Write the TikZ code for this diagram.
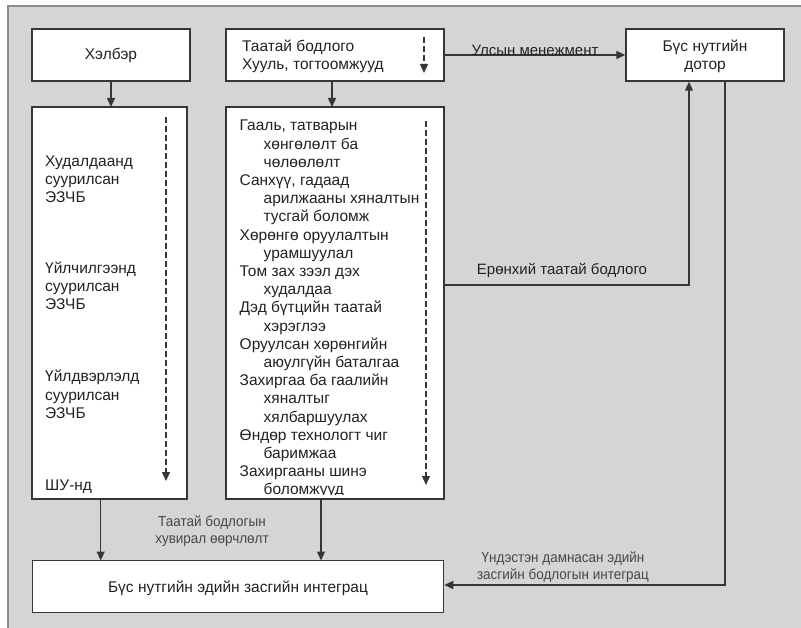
\documentclass[tikz,border=0pt]{standalone}
\usepackage{fontspec}
\setmainfont{Liberation Sans}
\usetikzlibrary{arrows.meta}
\definecolor{bg}{HTML}{D4D5D7}
\definecolor{frame}{HTML}{8C8C8C}
\definecolor{ln}{HTML}{363636}
\definecolor{txt}{HTML}{222222}
\definecolor{lbl}{HTML}{474747}
\newcommand{\ind}{\hspace*{24pt}}
\tikzset{
  box/.style={draw=ln, line width=1.5pt, fill=white, inner sep=0pt},
  conn/.style={draw=ln, line width=1.4pt, -{Triangle[length=9pt,width=8pt]}},
  dashar/.style={draw=ln, line width=1.2pt, dash pattern=on 6pt off 3pt, -{Triangle[length=9pt,width=8pt]}},
  maintxt/.style={text=txt, font=\fontsize{15.5}{18.2}\selectfont, inner sep=0pt},
  lbltxt/.style={text=lbl, font=\fontsize{14.5}{17}\selectfont\addfontfeatures{FakeStretch=0.93}, inner sep=0pt, align=center}
}
\begin{document}
\begin{tikzpicture}[x=1pt,y=-1pt]
\useasboundingbox (0,0) rectangle (801,628);
\clip (0,0) rectangle (801,628);
\draw[frame, line width=1.5pt, fill=bg] (8,6) rectangle (820,650);

% boxes
\node[box, minimum width=158pt, minimum height=52pt] (form) at (111,55) {};
\node[box, minimum width=155pt, minimum height=392pt] (leftbig) at (109.5,303) {};
\node[box, minimum width=218pt, minimum height=52pt] (policy) at (335,55) {};
\node[box, minimum width=218pt, minimum height=392pt] (midbig) at (335,303) {};
\node[box, minimum width=158pt, minimum height=52pt] (region) at (705,55) {};
\node[box, minimum width=411pt, minimum height=52pt] (integ) at (238,586.5) {};

% box texts
\node[maintxt] (formtxt) at (form.center) {Хэлбэр};
\node[maintxt, align=left, anchor=west] (policytxt) at (242,56) {Таатай бодлого\\Хууль, тогтоомжууд};
\node[maintxt, align=center] (regiontxt) at (705,56) {Бүс нутгийн\\дотор};
\node[maintxt] (integtxt) at (238,588) {Бүс нутгийн эдийн засгийн интеграц};

\node[maintxt, align=left, anchor=west] (g1) at (45,179.5) {Худалдаанд\\суурилсан\\ЭЗЧБ};
\node[maintxt, align=left, anchor=west] (g2) at (45,286) {Үйлчилгээнд\\суурилсан\\ЭЗЧБ};
\node[maintxt, align=left, anchor=west] (g3) at (45,394.5) {Үйлдвэрлэлд\\суурилсан\\ЭЗЧБ};
\node[maintxt, anchor=west] (g4) at (45,487) {ШУ-нд};

\begin{scope}
\clip (227,108) rectangle (443,494);
\node[maintxt, align=left, anchor=north west] (midtxt) at (239.5,120) {Гааль, татварын\\\ind хөнгөлөлт ба\\\ind чөлөөлөлт\\Санхүү, гадаад\\\ind арилжааны хяналтын\\\ind тусгай боломж\\Хөрөнгө оруулалтын\\\ind урамшуулал\\Том зах зээл дэх\\\ind худалдаа\\Дэд бүтцийн таатай\\\ind хэрэглээ\\Оруулсан хөрөнгийн\\\ind аюулгүйн баталгаа\\Захиргаа ба гаалийн\\\ind хяналтыг\\\ind хялбаршуулах\\Өндөр технологт чиг\\\ind баримжаа\\Захиргааны шинэ\\\ind боломжууд};
\end{scope}

% dashed arrows inside boxes
\coordinate (d1a) at (166,117);  \coordinate (d1b) at (166,481);
\coordinate (d2a) at (426,121);  \coordinate (d2b) at (426,485);
\coordinate (d3a) at (424,37);   \coordinate (d3b) at (424,73);
\draw[dashar] (d1a) -- (d1b);
\draw[dashar] (d2a) -- (d2b);
\draw[dashar] (d3a) -- (d3b);

% connectors
\draw[conn] (111,81) -- (111,107);
\draw[conn] (332,81) -- (332,107);
\draw[conn] (policy.east) -- node[lbltxt, above=-1pt, pos=0.5, text=txt, font=\fontsize{15}{18}\selectfont] (lblmgmt) {Улсын менежмент} (region.west);
\coordinate (gp) at (689,285);
\draw[conn] (midbig.east |- gp) -- (gp) -- (gp |- region.south);
\node[maintxt, text=txt, font=\fontsize{15}{18}\selectfont] (lblgen) at (562,270) {Ерөнхий таатай бодлого};
\coordinate (rb) at (725,585);
\draw[conn] (rb |- region.south) -- (rb) -- (integ.east |- rb);
\node[lbltxt] (lbltrans) at (563,567) {Үндэстэн дамнасан эдийн\\засгийн бодлогын интеграц};
\draw[conn] (100.7,499) -- (100.7,560.5);
\draw[conn] (321,499) -- (321,560.5);
\node[lbltxt] (lblchange) at (212,531) {Таатай бодлогын\\хувирал өөрчлөлт};
\end{tikzpicture}
\end{document}
